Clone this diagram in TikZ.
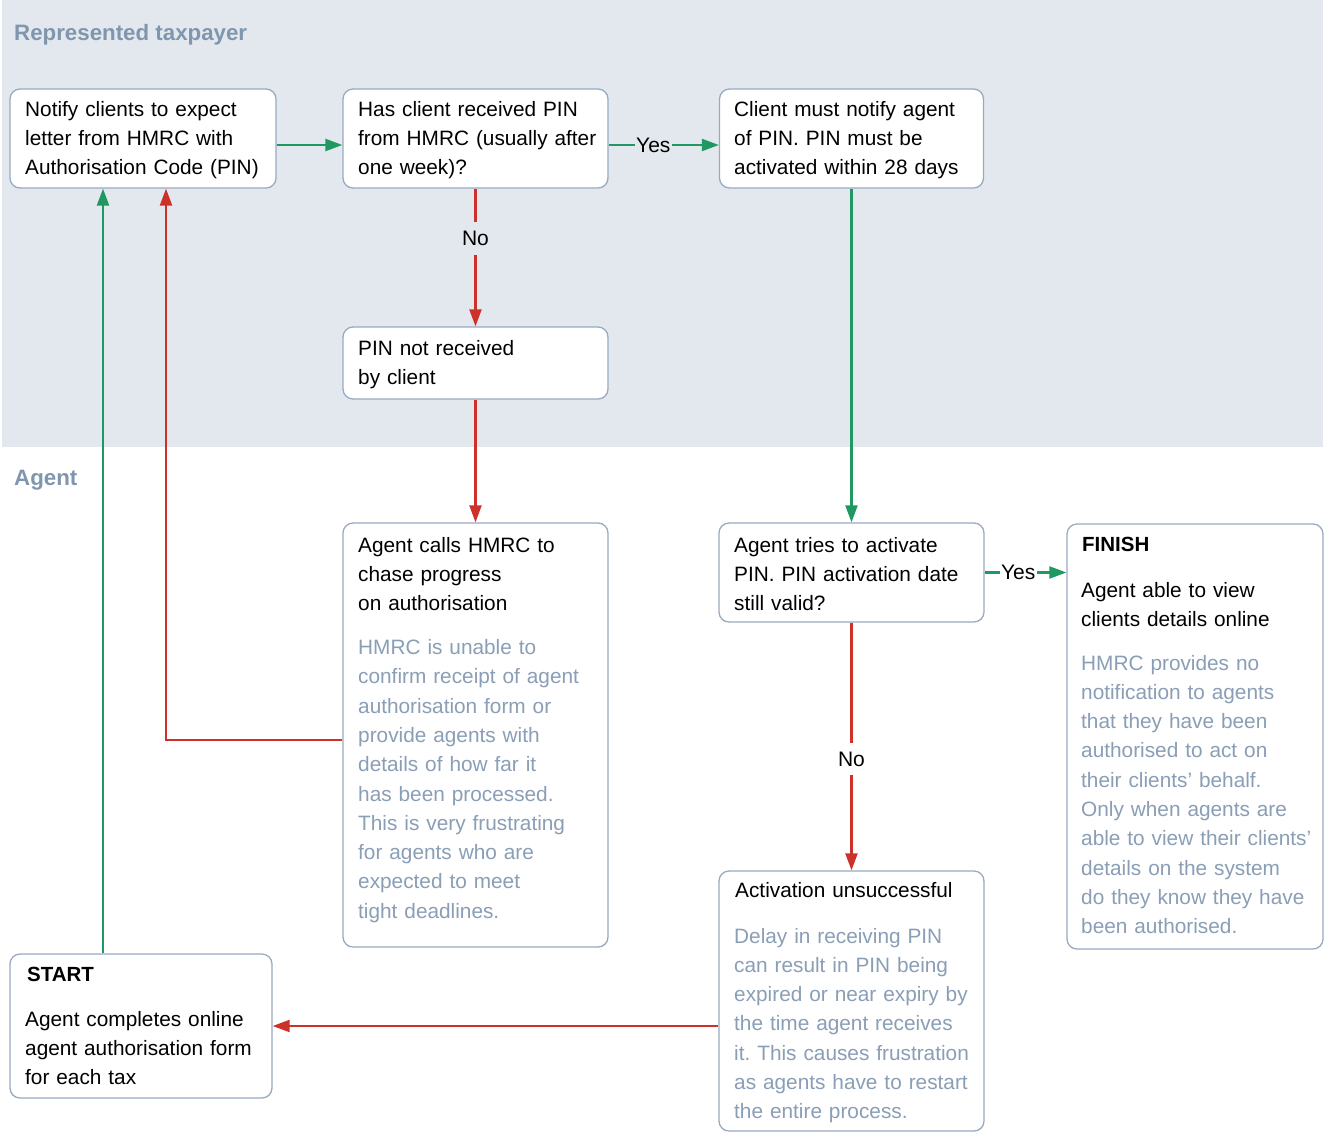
\documentclass[tikz,border=0pt]{standalone}
\usepackage{fontspec}
\setmainfont{Liberation Sans}
\usetikzlibrary{arrows.meta}
\frenchspacing
\definecolor{band}{RGB}{227,232,238}
\definecolor{lane}{RGB}{128,150,174}
\definecolor{bord}{RGB}{152,170,192}
\definecolor{note}{RGB}{138,158,182}
\definecolor{okg}{RGB}{32,152,98}
\definecolor{nor}{RGB}{205,50,42}
\tikzset{
  box/.style={draw=bord, line width=1.3pt, rounded corners=10pt, fill=white, inner sep=0pt},
  txt/.style={anchor=base west, inner sep=0pt, text width=#1, align=left,
      font=\fontsize{20.8}{29.3}\selectfont, text=black},
  txt/.default=250pt,
  notetxt/.style={txt=#1, text=note},
  notetxt/.default=250pt,
  headtxt/.style={anchor=base west, inner sep=0pt, font=\fontsize{20.5}{24}\selectfont\bfseries},
  lanetxt/.style={anchor=base west, inner sep=0pt, text=lane, font=\fontsize{22.3}{26}\selectfont\bfseries},
  yesarrow/.style={draw=okg, line width=2.2pt, -{Triangle[length=17pt,width=12pt]}},
  noarrow/.style={draw=nor, line width=2.2pt, -{Triangle[length=17pt,width=12pt]}},
  lblh/.style={font=\fontsize{21}{24}\selectfont, inner xsep=1.5pt, inner ysep=1pt},
  lblv/.style={font=\fontsize{21}{24}\selectfont, inner xsep=1pt, inner ysep=9pt},
}
\begin{document}
\begin{tikzpicture}[x=1pt,y=-1pt]
\useasboundingbox (0,0) rectangle (1325,1133);
\fill[band] (2,0) rectangle (1323,447);
\node[lanetxt] (lane1) at (14,40) {Represented taxpayer};
\node[lanetxt] (lane2) at (14,485) {Agent};

% boxes
\node[box, minimum width=266pt, minimum height=99pt] (b1) at (143,138.5) {};
\node[box, minimum width=265pt, minimum height=99pt] (b2) at (475.5,138.5) {};
\node[box, minimum width=264pt, minimum height=99pt] (b3) at (851.5,138.5) {};
\node[box, minimum width=265pt, minimum height=72pt] (b4) at (475.5,363) {};
\node[box, minimum width=265pt, minimum height=424pt] (b5) at (475.5,735) {};
\node[box, minimum width=265pt, minimum height=99pt] (b6) at (851.5,572.5) {};
\node[box, minimum width=256pt, minimum height=425pt] (b7) at (1195,736.5) {};
\node[box, minimum width=265pt, minimum height=260pt] (b8) at (851.5,1001) {};
\node[box, minimum width=262pt, minimum height=144pt] (b9) at (141,1026) {};

% texts
\node[txt] (t1) at (25,116) {Notify clients to expect\\letter from HMRC with\\Authorisation Code (PIN)};
\node[txt] (t2) at (358,116) {Has client received PIN\\from HMRC (usually after\\one week)?};
\node[txt] (t3) at (734,116) {Client must notify agent\\of PIN. PIN must be\\activated within 28 days};
\node[txt] (t4) at (358,355) {PIN not received\\by client};
\node[txt] (t5) at (358,552) {Agent calls HMRC to\\chase progress\\on authorisation};
\node[notetxt] (n5) at (358,654.5) {HMRC is unable to\\confirm receipt of agent\\authorisation form or\\provide agents with\\details of how far it\\has been processed.\\This is very frustrating\\for agents who are\\expected to meet\\tight deadlines.};
\node[txt] (t6) at (734,552) {Agent tries to activate\\PIN. PIN activation date\\still valid?};
\node[headtxt] (h7) at (1082,551) {FINISH};
\node[txt=240pt] (t7) at (1081,597) {Agent able to view\\clients details online};
\node[notetxt=240pt] (n7) at (1081,670) {HMRC provides no\\notification to agents\\that they have been\\authorised to act on\\their clients’ behalf.\\Only when agents are\\able to view their clients’\\details on the system\\do they know they have\\been authorised.};
\node[txt] (t8) at (735,897) {Activation unsuccessful};
\node[notetxt] (n8) at (734,943) {Delay in receiving PIN\\can result in PIN being\\expired or near expiry by\\the time agent receives\\it. This causes frustration\\as agents have to restart\\the entire process.};
\node[headtxt] (h9) at (27,981) {START};
\node[txt] (t9) at (25,1026) {Agent completes online\\agent authorisation form\\for each tax};

% connectors
\draw[yesarrow] ([yshift=-6.5pt]b1.east) -- ([yshift=-6.5pt]b2.west);
\draw[yesarrow] ([yshift=-6.5pt]b2.east) -- node[lblh, fill=band, pos=0.405] (l1) {Yes} ([yshift=-6.5pt]b3.west);
\draw[noarrow] (b2.south) -- node[lblv, fill=band, pos=0.36] (l2) {No} (b4.north);
\draw[noarrow] (b4.south) -- (b5.north);
\draw[yesarrow] (b3.south) -- (b6.north);
\draw[yesarrow] (b6.east) -- node[lblh, fill=white, pos=0.41] (l3) {Yes} (b6.east -| b7.west);
\draw[noarrow] (b6.south) -- node[lblv, fill=white, pos=0.55] (l4) {No} (b8.north);
\draw[noarrow] (b8.west |- b9.east) -- (b9.east);
\draw[noarrow] ([yshift=-5pt]b5.west) -| ([xshift=23pt]b1.south);
\draw[yesarrow] ([xshift=-38pt]b9.north) -- ([xshift=-40pt]b1.south);
\end{tikzpicture}
\end{document}
